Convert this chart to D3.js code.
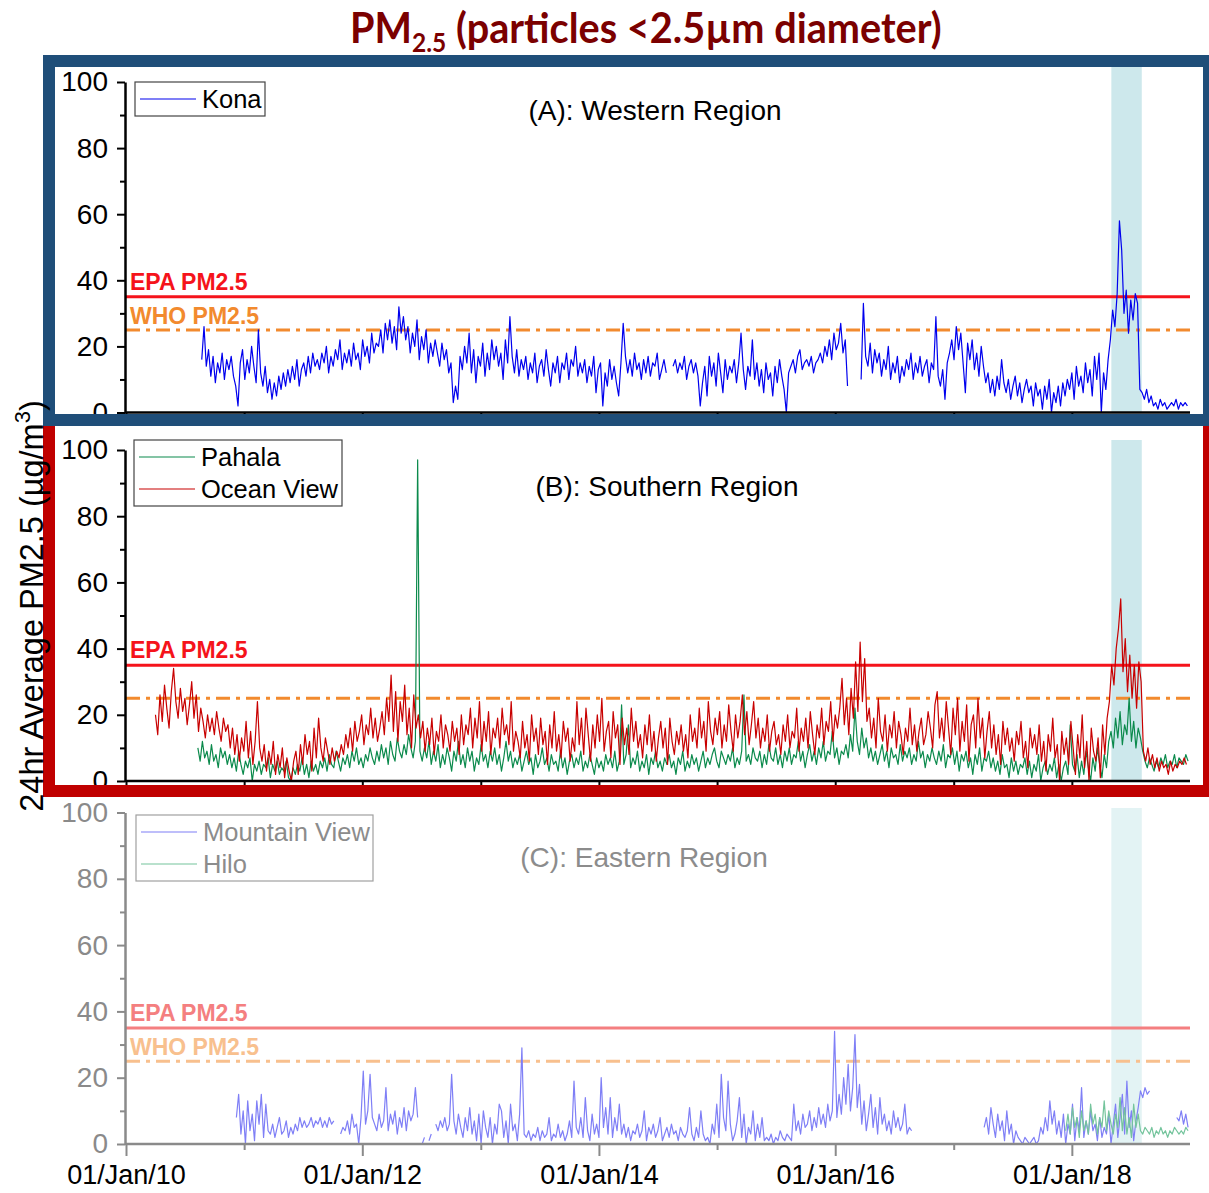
<!DOCTYPE html>
<html lang="en"><head>
<meta charset="utf-8">
<title>PM2.5 Hawaii</title>
<script src="https://cdn.jsdelivr.net/npm/d3@7"></script>
<style>body{margin:0;background:#fff;}</style>
</head>
<body>
<script type="text/javascript">

var width = 1209;
var height = 1193;

// limits and dates
var epaLimit = 35;
var whoLimit = 25;
var eruption = ["2018-05-03", "2018-08-05"];
var majorYears = [2010, 2012, 2014, 2016, 2018];
var minorYears = [2011, 2013, 2015, 2017];
var yMajor = [0, 20, 40, 60, 80, 100];
var yMinor = [10, 30, 50, 70, 90];

// weekly values (first value at the start date)
var konaStart = "2010-08-23";
var kona = [16,26,14,19,11,17,9,15,12,18,10,16,13,
17,11,8,2,15,19,10,16,12,20,14,9,25,
12,8,14,6,10,4,9,5,11,7,12,8,13,
9,14,10,16,8,13,15,11,17,12,18,14,16,
13,18,15,20,12,17,14,19,16,22,13,18,15,
19,14,21,16,18,13,22,17,20,15,24,18,21,
20,25,18,27,22,28,21,26,19,32,24,29,22,
26,18,24,20,28,16,23,19,25,15,21,17,22,
18,14,21,16,19,12,15,3,8,4,17,13,20,
15,24,12,19,9,17,14,21,11,18,13,22,16,
20,14,18,10,22,15,29,17,12,19,11,16,13,
17,10,15,12,18,9,14,16,11,19,13,8,15,
12,17,9,15,13,18,10,16,14,20,11,15,12,
16,9,14,11,17,6,13,15,2,12,8,16,10,
14,9,5,15,27,17,12,16,11,18,13,15,10,
16,12,17,11,15,14,18,10,13,16,12,null,null,
14,16,12,15,13,17,10,14,16,12,15,11,2,
9,14,5,17,11,15,8,18,12,6,16,10,14,
12,16,9,15,24,13,7,14,11,22,10,15,8,
13,6,15,10,12,5,14,9,16,11,7,0,12,
14,16,12,17,19,13,15,16,14,17,12,15,16,
18,15,20,17,22,16,24,19,21,27,18,22,8,
null,null,null,null,null,10,33,17,14,21,12,19,15,
18,11,16,13,20,10,15,12,17,9,14,11,16,
13,18,10,15,12,17,11,14,16,9,15,13,29,
11,8,13,4,15,18,22,16,26,19,24,15,6,
21,16,22,13,18,11,20,14,9,12,6,10,5,
11,7,16,9,6,10,4,8,11,5,9,3,7,
10,6,8,2,9,5,7,1,8,4,10,0,6,
3,8,2,9,5,10,7,12,4,14,8,11,6,
15,9,13,5,17,10,18,0,12,7,16,22,31,
26,36,58,49,30,37,24,34,28,36,33,7,6,
4,7,3,5,2,3,1,4,2,3,1,2,3,
2,4,1,3,2,3,2];

var oceanViewStart = "2010-04-02";
var oceanView = [20,14,26,18,29,22,16,27,34,24,19,28,21,
25,17,23,30,19,26,15,22,18,13,20,15,19,
14,21,16,12,19,15,17,10,16,8,14,6,13,
9,18,7,15,5,12,24,10,6,11,3,9,5,
12,2,8,4,10,1,7,3,0,6,9,2,11,
5,14,8,12,3,16,7,19,10,6,13,9,5,
10,6,9,7,11,8,14,10,16,9,18,12,15,
20,11,17,14,22,13,19,12,16,21,14,25,18,
32,15,27,12,24,18,29,14,22,10,26,16,20,
13,18,9,16,11,19,8,15,12,20,10,17,14,
9,18,12,16,8,20,11,17,14,22,10,19,13,
24,9,18,12,21,8,16,13,19,10,22,14,17,
11,24,9,15,12,7,18,10,14,6,20,12,16,
8,19,11,15,5,17,10,21,9,14,7,18,12,
16,6,13,9,24,11,19,8,22,14,6,17,10,
20,12,25,9,15,18,7,21,13,17,5,19,11,
16,8,22,12,18,10,14,7,17,11,20,9,15,
6,13,18,10,16,5,19,12,8,15,11,17,9,
14,7,20,12,16,10,22,13,18,9,24,15,11,
19,14,21,10,17,12,23,15,9,20,13,18,26,
14,21,11,17,24,13,19,10,16,12,20,9,15,
18,11,14,8,17,12,20,10,15,13,22,9,16,
12,19,10,21,14,8,17,13,22,11,18,15,24,
12,20,16,22,31,17,25,14,28,19,36,21,42,
24,37,18,22,13,19,10,25,15,12,20,9,17,
13,21,10,18,14,8,16,12,22,11,17,9,15,
19,11,14,21,16,10,23,27,13,19,12,24,16,
8,22,14,25,9,18,12,23,6,17,20,10,25,
13,19,7,15,21,10,17,8,14,5,18,11,16,
9,13,6,15,11,18,7,12,4,16,10,14,8,
17,6,12,3,14,9,19,7,11,0,15,8,13,
5,18,10,2,14,7,20,4,12,0,16,9,6,
13,1,17,8,19,24,35,29,40,46,55,33,43,
27,38,25,35,22,36,30,9,6,10,5,8,4,
7,3,6,4,5,2,6,3,5,4,6,5,7,
5];

var pahalaStart = "2010-08-11";
var pahala = [10,6,12,7,9,5,11,6,8,4,10,7,9,
5,8,4,7,3,9,5,2,6,4,7,0,5,
3,6,2,5,4,7,1,5,3,6,2,4,3,
6,1,0,4,2,5,3,7,2,5,1,6,3,
5,2,6,4,7,3,8,5,4,9,6,3,7,
5,8,4,9,6,10,5,7,4,8,6,10,7,
5,9,6,11,7,10,5,12,8,6,13,9,7,
11,8,14,10,7,12,97,9,6,10,7,12,5,
9,6,11,4,8,5,10,7,3,9,6,12,5,
8,4,10,6,9,3,7,5,11,6,8,4,9,
6,10,5,8,3,7,12,6,9,4,7,5,8,
3,6,9,5,7,2,8,4,6,10,5,7,3,
8,5,6,3,9,4,7,2,6,8,4,7,5,
9,3,6,4,8,5,2,7,4,6,3,8,5,
7,4,9,3,6,23,5,8,17,4,7,5,9,
3,6,4,8,2,7,5,9,4,6,3,7,5,
8,4,6,2,7,5,9,3,6,4,8,5,7,
3,6,9,4,7,5,8,10,6,4,9,7,5,
8,6,10,4,7,5,9,26,6,8,5,10,7,
6,9,4,8,5,11,7,6,10,5,8,4,9,
6,10,5,8,7,12,6,9,4,8,11,6,9,
5,10,7,12,6,9,8,15,7,10,5,9,8,
11,7,14,9,22,12,8,16,10,13,7,10,6,
9,5,8,11,6,9,4,10,7,8,5,11,6,
9,7,10,5,8,6,12,7,9,4,8,6,10,
7,5,9,6,11,4,8,7,10,5,9,3,8,
6,9,4,7,2,8,5,10,3,7,6,9,4,
7,3,6,2,8,4,5,1,7,3,6,2,5,
4,7,2,6,1,5,3,8,0,4,6,2,5,
3,7,1,5,0,4,6,2,17,5,3,8,1,
6,2,9,4,0,7,3,10,5,1,8,4,12,
15,10,19,13,21,11,17,14,25,12,18,10,16,
13,9,6,4,7,5,3,6,4,7,5,8,4,
6,5,8,4,7,6,5,8,6];

var mountainViewStart = "2010-12-08";
var mountainView = [8,15,3,10,0,13,4,9,1,13,6,15,2,
12,4,3,6,2,5,8,3,4,7,2,5,3,
6,4,8,5,7,5,6,8,5,7,6,8,5,
7,5,8,6,7,null,null,3,5,4,7,3,9,
5,6,0,8,22,6,10,21,8,6,4,9,5,
7,17,4,9,6,10,3,8,5,11,4,10,7,
9,17,8,null,0,2,null,1,3,null,6,4,7,
5,8,4,6,21,7,3,9,5,2,8,4,11,
3,7,1,9,0,10,5,2,8,0,6,3,12,
10,2,7,0,12,4,6,1,9,29,3,2,4,
1,3,2,5,1,4,2,3,8,1,3,2,6,
2,4,1,3,7,2,19,5,3,8,2,14,4,
1,9,3,6,2,20,5,11,3,14,2,8,4,
12,3,6,2,5,1,4,3,6,2,4,10,1,
5,3,6,2,4,8,1,3,5,2,6,3,4,
1,5,3,2,4,11,3,1,5,2,10,3,1,
2,0,6,3,12,2,21,8,4,19,6,1,3,
7,14,2,9,0,5,3,10,1,6,2,8,1,
2,1,3,0,2,1,4,2,1,3,2,1,12,
4,7,3,9,5,6,10,4,8,5,11,6,9,
5,12,7,10,34,8,15,9,20,12,24,10,17,
33,11,18,6,13,4,9,15,5,11,3,14,6,
9,4,7,3,10,5,8,4,6,12,3,5,4,
null,null,null,null,null,null,null,null,null,null,null,null,null,
null,null,null,null,null,null,null,null,null,null,null,null,null,
null,null,null,null,null,5,8,3,11,6,2,9,4,
7,1,10,3,6,0,4,2,1,0,2,1,0,
1,2,0,1,5,3,8,4,13,6,10,3,7,
2,9,0,6,3,12,1,8,4,17,2,7,3,
10,4,6,1,8,2,5,3,9,0,6,12,2,
8,15,3,19,5,10,1,7,11,16,14,17,15,
16,null,null,null,null,null,null,null,null,null,null,null,8,
7,10,6,9,5];

var hiloStart = "2017-12-13";
var hilo = [4,9,3,11,5,8,2,10,4,7,3,12,6,
9,3,8,5,13,4,10,6,3,9,5,14,4,
11,3,8,2,12,5,9,4,3,5,4,3,5,
2,4,3,5,3,4,2,4,3,5,4,3,4,
3,5,4];

var parse = d3.timeParse("%Y-%m-%d");
var font = "'Liberation Sans', Arial, sans-serif";

var svg = d3.select("body").append("svg")
    .attr("width", width)
    .attr("height", height);

var x = d3.scaleTime()
    .domain([parse("2010-01-01"), parse("2019-01-01")])
    .range([126, 1190]);

function weekly(start, values) {
    var s = parse(start);
    return values.map((v, i) => ({date: d3.timeDay.offset(s, 7 * i), v: v}));
}

function drawPanel(p) {
    var y = d3.scaleLinear().domain([0, 100]).range([p.bottom, p.top]);
    var g = svg.append("g");

    // eruption band
    g.append("rect")
        .attr("x", x(parse(eruption[0])))
        .attr("width", x(parse(eruption[1])) - x(parse(eruption[0])))
        .attr("y", p.shadeTop)
        .attr("height", p.bottom - p.shadeTop)
        .attr("fill", p.shade);

    // limit lines
    g.append("line")
        .attr("x1", 126).attr("x2", 1190)
        .attr("y1", y(epaLimit)).attr("y2", y(epaLimit))
        .attr("stroke", p.epaColor).attr("stroke-width", 3);
    g.append("line")
        .attr("x1", 126).attr("x2", 1190)
        .attr("y1", y(whoLimit)).attr("y2", y(whoLimit))
        .attr("stroke", p.whoColor).attr("stroke-width", 3)
        .attr("stroke-dasharray", "14,6,4,6");
    g.append("text")
        .attr("x", 130).attr("y", y(epaLimit) - 7)
        .attr("font-family", font).attr("font-weight", "bold").attr("font-size", 23)
        .attr("fill", p.epaColor).text("EPA PM2.5");
    if (p.whoLabel) {
        g.append("text")
            .attr("x", 130).attr("y", y(whoLimit) - 6)
            .attr("font-family", font).attr("font-weight", "bold").attr("font-size", 23)
            .attr("fill", p.whoColor).text("WHO PM2.5");
    }

    // series
    var line = d3.line()
        .defined(d => d.v != null)
        .x(d => x(d.date))
        .y(d => y(d.v));
    p.series.forEach((s) => {
        g.append("path")
            .datum(weekly(s.start, s.values))
            .attr("d", line)
            .attr("fill", "none")
            .attr("stroke", s.color)
            .attr("stroke-width", 1.2)
            .attr("stroke-linejoin", "round");
    });

    // y axis
    var ya = g.append("g").attr("transform", "translate(125,0)")
        .call(d3.axisLeft(y).tickValues(yMajor).tickSize(8).tickSizeOuter(0).tickPadding(9));
    g.append("g").attr("transform", "translate(125,0)")
        .call(d3.axisLeft(y).tickValues(yMinor).tickSize(5).tickSizeOuter(0).tickFormat(""))
        .select(".domain").remove();

    // x axis
    var xa = g.append("g").attr("transform", "translate(0," + p.bottom + ")")
        .call(d3.axisBottom(x)
            .tickValues(majorYears.map(yr => new Date(yr, 0, 1)))
            .tickSize(12).tickSizeOuter(0).tickPadding(9)
            .tickFormat(p.xLabels ? d3.timeFormat("%d/%b/%y") : ""));
    g.append("g").attr("transform", "translate(0," + p.bottom + ")")
        .call(d3.axisBottom(x)
            .tickValues(minorYears.map(yr => new Date(yr, 0, 1)))
            .tickSize(6).tickSizeOuter(0).tickFormat(""))
        .select(".domain").remove();
    xa.select(".domain").attr("d", "M125,0H1190");

    g.selectAll(".domain").attr("stroke", p.axisColor).attr("stroke-width", 2.5);
    g.selectAll(".tick line").attr("stroke", p.axisColor).attr("stroke-width", 2);
    ya.selectAll("text").attr("font-family", font).attr("font-size", 28).attr("fill", p.axisColor);
    xa.selectAll("text").attr("font-family", font).attr("font-size", 27).attr("fill", "#000");

    // legend
    var lg = g.append("g");
    lg.append("rect")
        .attr("x", p.legend.x).attr("y", p.legend.y)
        .attr("width", p.legend.w).attr("height", 34 + 32 * (p.series.length - 1))
        .attr("fill", "#fff").attr("stroke", p.legend.border).attr("stroke-width", 1.2);
    p.series.forEach((s, i) => {
        var ly = p.legend.y + 17 + 32 * i;
        lg.append("line")
            .attr("x1", p.legend.x + 5).attr("x2", p.legend.x + 61)
            .attr("y1", ly).attr("y2", ly)
            .attr("stroke", s.color).attr("stroke-width", 1.2);
        lg.append("text")
            .attr("x", p.legend.x + 67).attr("y", ly + 9)
            .attr("font-family", font).attr("font-size", 25.5)
            .attr("fill", p.legend.textColor).text(s.name);
    });

    // panel title
    g.append("text")
        .attr("x", p.titleX).attr("y", p.titleY)
        .attr("text-anchor", "middle")
        .attr("font-family", font).attr("font-size", 28)
        .attr("fill", p.legend.textColor).text(p.title);
}

var panels = [
    {
        top: 82, bottom: 412.5, shadeTop: 66, shade: "#cde8ec",
        epaColor: "#f5131b", whoColor: "#f28a2e", whoLabel: true,
        axisColor: "#000", xLabels: false,
        title: "(A): Western Region", titleX: 655, titleY: 120,
        legend: {x: 135, y: 82, w: 130, border: "#444", textColor: "#000"},
        series: [{name: "Kona", color: "#0000ee", start: konaStart, values: kona}]
    },
    {
        top: 450, bottom: 781, shadeTop: 440, shade: "#cde8ec",
        epaColor: "#f5131b", whoColor: "#f28a2e", whoLabel: false,
        axisColor: "#000", xLabels: false,
        title: "(B): Southern Region", titleX: 667, titleY: 496,
        legend: {x: 134, y: 440, w: 208, border: "#444", textColor: "#000"},
        series: [
            {name: "Pahala", color: "#0b8a4c", start: pahalaStart, values: pahala},
            {name: "Ocean View", color: "#c80000", start: oceanViewStart, values: oceanView}
        ]
    },
    {
        top: 812.5, bottom: 1144, shadeTop: 808, shade: "#e3f3f4",
        epaColor: "#f47f80", whoColor: "#f8c08e", whoLabel: true,
        axisColor: "#8a8a8a", xLabels: true,
        title: "(C): Eastern Region", titleX: 644, titleY: 867,
        legend: {x: 136, y: 815, w: 237, border: "#a0a0a0", textColor: "#8c8c8c"},
        series: [
            {name: "Mountain View", color: "#7f7ff6", start: mountainViewStart, values: mountainView},
            {name: "Hilo", color: "#74c49c", start: hiloStart, values: hilo}
        ]
    }
];

panels.forEach(drawPanel);

// frames
svg.append("rect")
    .attr("x", 49).attr("y", 420).attr("width", 1160).attr("height", 371)
    .attr("fill", "none").attr("stroke", "#c00000").attr("stroke-width", 12);
svg.append("rect")
    .attr("x", 49).attr("y", 61).attr("width", 1160).attr("height", 359)
    .attr("fill", "none").attr("stroke", "#1f4e79").attr("stroke-width", 12);

// y axis label
var yl = svg.append("text")
    .attr("transform", "translate(43,606) rotate(-90)")
    .attr("text-anchor", "middle")
    .attr("font-family", font).attr("font-size", 32.5).attr("fill", "#000");
yl.append("tspan").text("24hr Average PM2.5 (µg/m");
yl.append("tspan").attr("dy", -13).attr("font-size", 22).text("3");
yl.append("tspan").attr("dy", 13).text(")");

// title
var title = svg.append("text")
    .attr("x", 0).attr("y", 43)
    .attr("font-family", "Lato, 'Open Sans', sans-serif").attr("font-weight", "bold")
    .attr("font-size", 42).attr("fill", "#7b0000");
title.append("tspan").text("PM");
title.append("tspan").attr("dy", 9).attr("font-size", 26).text("2.5");
title.append("tspan").attr("dy", -9).text(" (particles <2.5µm diameter)");
var tw = title.node().getComputedTextLength();
var sx = 592 / tw;
title.attr("transform", "translate(350,0) scale(" + sx + ",1)");

</script>
</body></html>
